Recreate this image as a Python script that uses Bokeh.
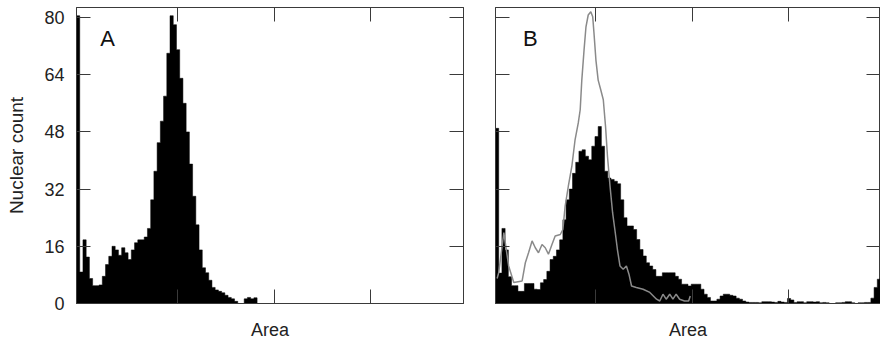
from bokeh.plotting import figure
from bokeh.layouts import row
from bokeh.models import Range1d, FixedTicker, LinearAxis, Label
from bokeh.embed import file_html
from bokeh.resources import INLINE

# ---- data -------------------------------------------------------------
Y_TICKS = [0, 16, 32, 48, 64, 80]
X_TICKS = [31.25, 61.25, 91.25]          # unlabeled Area ticks
AREA_START = 0.0
BIN_WIDTH = 1.0
Y_LABEL = "Nuclear count"
X_LABEL = "Area"

# Panel A histogram (counts per Area bin)
counts_a = [80.5, 8.8, 17.8, 13.0, 7.0, 5.0, 5.0, 5.2, 7.6, 10.9,
            13.2, 16.0, 15.0, 13.5, 15.6, 14.2, 12.3, 15.0, 17.0, 17.8,
            17.8, 18.6, 21.0, 29.0, 37.0, 45.0, 51.0, 58.0, 70.0, 80.5,
            78.0, 71.0, 63.0, 56.0, 48.0, 39.0, 30.0, 22.0, 15.0, 10.0,
            8.6, 6.5, 4.5, 3.8, 3.4, 3.0, 2.3, 1.7, 1.3, 0.6,
            0.0, 0.0, 1.3, 1.7, 1.3, 1.6]

# Panel B histogram
counts_b = [49.0, 8.5, 21.0, 15.0, 7.5, 5.0, 5.0, 3.4, 3.4, 5.6,
            5.6, 5.6, 4.0, 3.9, 5.8, 6.7, 9.0, 12.3, 13.2, 15.0,
            17.8, 23.4, 29.0, 32.0, 36.4, 39.5, 42.6, 43.0, 41.2, 40.2,
            44.0, 46.7, 49.5, 44.0, 37.0, 35.1, 34.7, 34.2, 33.5, 29.0,
            24.0, 21.7, 21.7, 20.7, 17.9, 15.1, 13.3, 11.4, 10.5, 9.5,
            7.6, 7.6, 8.6, 8.6, 8.6, 8.6, 7.6, 6.8, 5.4, 5.4,
            4.9, 5.4, 5.4, 5.4, 4.0, 2.6, 1.7, 0.7, 0.7, 1.2,
            2.1, 2.6, 2.6, 2.3, 2.1, 1.5, 1.2, 0.7, 0.4, 0.3,
            0.3, 0.3, 0.2, 0.5, 0.5, 0.5, 0.4, 0.3, 0.6, 0.4,
            0.3, 1.4, 1.0, 0.3, 0.5, 0.5, 0.2, 0.5, 0.5, 0.4,
            0.5, 0.2, 0.3, 0.2, 0.0, 0.0, 0.2, 0.2, 0.3, 0.5,
            0.5, 0.2, 0.0, 0.2, 0.2, 0.3, 0.3, 1.5, 4.5, 6.8]

# Reference (control) distribution outline drawn in panel B
ref_area = [0.5, 1.0, 2.6, 4.1, 5.7, 8.3, 9.3, 10.3, 11.4, 12.4,
            13.4, 14.5, 15.5, 16.5, 17.6, 18.6, 20.2, 21.0, 21.7, 22.7,
            23.8, 24.8, 25.8, 26.4, 26.9, 27.6, 28.2, 28.9, 29.7, 30.3,
            30.7, 31.3, 32.0, 32.8, 33.6, 34.3, 34.9, 35.7, 36.5, 37.2,
            38.0, 38.8, 39.8, 40.8, 41.6, 42.4, 43.9, 46.0, 48.1, 50.2,
            51.2, 52.2, 53.2, 54.3, 55.3, 56.3, 57.4, 58.9, 60.2, 60.7]
ref_count = [7.0, 8.6, 19.8, 10.5, 5.9, 6.3, 11.4, 14.2, 17.5, 15.6,
             14.2, 16.5, 15.6, 13.8, 16.5, 18.9, 19.3, 20.7, 27.2, 32.8,
             38.4, 45.8, 50.5, 54.2, 62.5, 70.9, 77.4, 80.7, 81.6, 80.2,
             75.6, 68.1, 62.5, 59.8, 57.0, 49.5, 41.2, 32.8, 25.4, 20.7,
             15.1, 10.5, 9.6, 10.5, 8.2, 4.9, 4.5, 4.0, 3.1, 1.2,
             0.7, 2.6, 1.2, 2.6, 1.2, 2.6, 1.2, 0.7, 0.7, 2.1]

# ---- styling ----------------------------------------------------------
FONT = "Liberation Sans"
FRAME_COLOR = "#3a3a3a"
X_MAX = 120
Y_MAX = 82.8


def style_axis(ax, ticks, labels):
    ax.ticker = FixedTicker(ticks=ticks)
    ax.major_tick_in = 14
    ax.major_tick_out = 0
    ax.minor_tick_line_color = None
    ax.major_tick_line_color = FRAME_COLOR
    ax.major_tick_line_width = 1
    ax.axis_line_color = FRAME_COLOR
    ax.major_label_text_font = FONT
    ax.major_label_text_font_size = "18px"
    ax.major_label_text_color = "#222222"
    if labels:
        ax.major_label_standoff = 12
    else:
        ax.major_label_overrides = {t: "" for t in ticks}
        ax.major_label_standoff = 0


def step_outline(counts):
    xs, ys = [AREA_START], [0]
    for i, c in enumerate(counts):
        l = AREA_START + i * BIN_WIDTH
        xs += [l, l + BIN_WIDTH]
        ys += [c, c]
    xs.append(AREA_START + len(counts) * BIN_WIDTH)
    ys.append(0)
    return xs, ys


def make_panel(counts, letter, letter_x, show_y_labels, width, left, right):
    p = figure(width=width, height=342,
               x_range=Range1d(0, X_MAX), y_range=Range1d(0, Y_MAX),
               x_axis_location=None, y_axis_location=None,
               output_backend="svg", toolbar_location=None,
               min_border_left=left, min_border_right=right,
               min_border_top=7, min_border_bottom=38)
    p.grid.grid_line_color = None
    p.outline_line_color = FRAME_COLOR
    p.outline_line_width = 1
    p.background_fill_color = "white"
    p.border_fill_color = "white"

    xs, ys = step_outline(counts)
    p.patch(xs, ys, fill_color="black", line_color="black", line_width=0.5)

    bottom = LinearAxis(axis_label=X_LABEL)
    style_axis(bottom, X_TICKS, False)
    bottom.axis_label_text_font = FONT
    bottom.axis_label_text_font_size = "18px"
    bottom.axis_label_text_font_style = "normal"
    bottom.axis_label_text_color = "#222222"
    bottom.axis_label_standoff = 16
    p.add_layout(bottom, "below")

    top = LinearAxis()
    style_axis(top, X_TICKS, False)
    p.add_layout(top, "above")

    leftax = LinearAxis(axis_label=Y_LABEL if show_y_labels else None)
    style_axis(leftax, Y_TICKS, show_y_labels)
    if show_y_labels:
        leftax.axis_label_text_font = FONT
        leftax.axis_label_text_font_size = "19px"
        leftax.axis_label_text_font_style = "normal"
        leftax.axis_label_text_color = "#222222"
        leftax.axis_label_standoff = 14
    p.add_layout(leftax, "left")

    rightax = LinearAxis()
    style_axis(rightax, Y_TICKS, False)
    p.add_layout(rightax, "right")

    p.add_layout(Label(x=letter_x, y=70.5, text=letter, text_font=FONT,
                       text_font_size="22px", text_color="#111111"))
    return p


pa = make_panel(counts_a, "A", 7.4, True, 479, 76, 16)
pb = make_panel(counts_b, "B", 8.6, False, 401, 16, 0)
pb.line(ref_area, ref_count, line_color="#8a8a8a", line_width=1.5)

layout = row(pa, pb)
open("out.html", "w").write(file_html(layout, INLINE))
